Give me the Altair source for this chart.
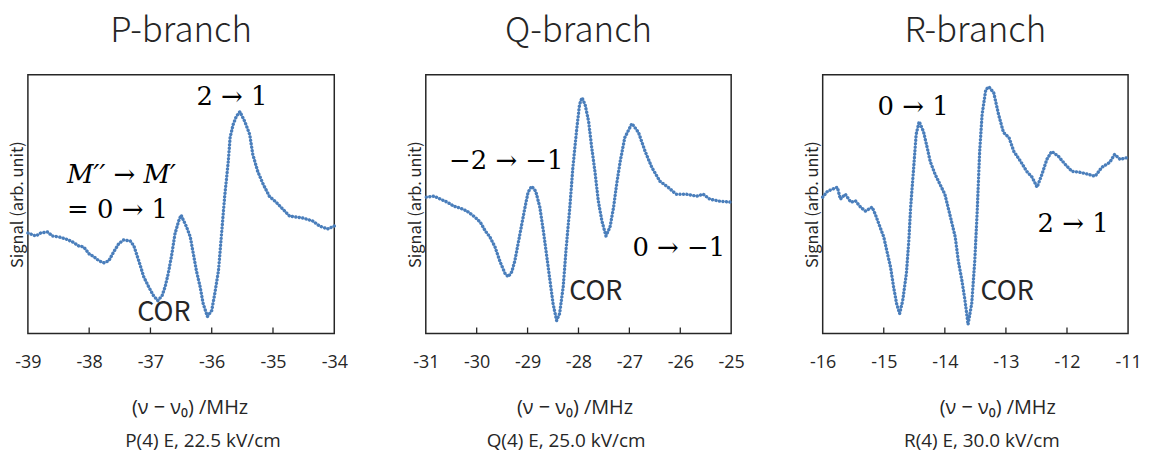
import altair as alt
import pandas as pd

# ---------------- data ----------------
# P-branch: frequency offset (MHz) and signal (arb. unit)
P_x = [-39.00, -38.87, -38.79, -38.68, -38.60, -38.49, -38.38, -38.27, -38.17, -38.09,
       -38.00, -37.92, -37.84, -37.76, -37.68, -37.60, -37.52, -37.44, -37.33, -37.27,
       -37.19, -37.11, -37.03, -36.95, -36.88, -36.81, -36.76, -36.71, -36.65, -36.60,
       -36.54, -36.50, -36.41, -36.35, -36.30, -36.25, -36.19, -36.14, -36.07, -36.00,
       -35.95, -35.89, -35.84, -35.79, -35.73, -35.70, -35.65, -35.60, -35.54, -35.46,
       -35.38, -35.33, -35.25, -35.16, -35.06, -34.95, -34.84, -34.73, -34.51, -34.35,
       -34.24, -34.11, -34.00]
P_y = [101, 98, 101, 102, 98, 97, 95, 92, 88, 87,
       80, 77, 73, 71, 73, 82, 90, 94, 93, 88,
       73, 57, 47, 38, 33, 38, 47, 60, 80, 100,
       113, 119, 107, 97, 80, 63, 47, 30, 17, 23,
       40, 63, 100, 137, 173, 197, 210, 218, 223, 213,
       200, 180, 163, 150, 138, 132, 125, 118, 116, 113,
       108, 105, 108]

# Q-branch
Q_x = [-30.99, -30.84, -30.71, -30.58, -30.45, -30.32, -30.19, -30.06, -29.93, -29.83,
       -29.74, -29.64, -29.54, -29.44, -29.38, -29.31, -29.25, -29.15, -29.05, -28.99,
       -28.92, -28.84, -28.76, -28.69, -28.63, -28.56, -28.50, -28.43, -28.37, -28.30,
       -28.24, -28.17, -28.11, -28.04, -27.98, -27.93, -27.87, -27.80, -27.74, -27.67,
       -27.61, -27.54, -27.46, -27.38, -27.31, -27.25, -27.18, -27.09, -26.95, -26.82,
       -26.69, -26.56, -26.40, -26.24, -26.08, -25.88, -25.68, -25.55, -25.42, -25.23,
       -25.00]
Q_y = [137, 138, 135, 132, 128, 126, 123, 118, 112, 103,
       97, 87, 72, 60, 57, 62, 73, 100, 127, 142,
       148, 143, 127, 103, 80, 53, 30, 13, 20, 47,
       87, 127, 167, 203, 230, 237, 230, 213, 187, 160,
       133, 113, 98, 107, 127, 150, 173, 197, 211, 202,
       183, 167, 153, 147, 140, 140, 138, 140, 135, 133,
       132]

# R-branch
R_x = [-16.00, -15.92, -15.84, -15.76, -15.71, -15.63, -15.54, -15.46, -15.38, -15.30,
       -15.19, -15.14, -15.08, -15.00, -14.95, -14.89, -14.84, -14.79, -14.74, -14.69,
       -14.63, -14.59, -14.56, -14.51, -14.47, -14.42, -14.35, -14.29, -14.24, -14.16,
       -14.08, -14.00, -13.92, -13.83, -13.78, -13.72, -13.67, -13.62, -13.56, -13.51,
       -13.47, -13.43, -13.39, -13.33, -13.28, -13.20, -13.12, -13.04, -12.95, -12.87,
       -12.76, -12.66, -12.57, -12.49, -12.41, -12.33, -12.25, -12.14, -12.03, -11.92,
       -11.79, -11.65, -11.54, -11.43, -11.30, -11.22, -11.13, -11.00]
R_y = [137, 143, 145, 147, 135, 140, 132, 133, 127, 123,
       127, 120, 110, 97, 83, 67, 47, 30, 20, 33,
       60, 93, 127, 167, 200, 213, 203, 187, 173, 160,
       150, 140, 120, 97, 73, 53, 33, 9, 30, 73,
       123, 183, 220, 245, 248, 242, 220, 202, 197, 183,
       173, 163, 157, 147, 160, 175, 183, 178, 170, 163,
       162, 160, 158, 167, 172, 180, 175, 177]

P_ticks = [-39, -38, -37, -36, -35, -34]
Q_ticks = [-31, -30, -29, -28, -27, -26, -25]
R_ticks = [-16, -15, -14, -13, -12, -11]

titles = ["P-branch", "Q-branch", "R-branch"]
captions = ["P(4) E, 22.5 kV/cm", "Q(4) E,  25.0 kV/cm", "R(4) E, 30.0 kV/cm"]
x_title = "(ν − ν₀) /MHz"
y_title = "Signal (arb. unit)"

# annotations: (x in MHz, signal, text)
P_notes = [(-35.67, 238, "2 → 1"), (-38.36, 124, "= 0 → 1")]
P_italic = [(-38.36, 159, "M′′ → M′")]
P_cor = [(-36.78, 21, "COR")]
Q_notes = [(-29.42, 173, "−2 → −1"), (-26.03, 86, "0 → −1")]
Q_italic = []
Q_cor = [(-27.66, 42, "COR")]
R_notes = [(-14.52, 228, "0 → 1"), (-11.90, 110, "2 → 1")]
R_italic = []
R_cor = [(-12.98, 42, "COR")]

# ---------------- styling ----------------
BLUE = "#4a7ebb"
INK = "#262626"
TITLE_FONT = "Noto Sans CJK JP"
LAT_FONT = "Open Sans, Lato, Noto Sans"
SERIF = "DejaVu Serif"
H = 260


def make_panel(title, xs, ys, dom, ticks, width, notes, italic, cor, caption,
               xt_dx, cap_dx):
    df = pd.DataFrame({"f": xs, "s": ys})
    xscale = alt.Scale(domain=dom, nice=False, zero=False)
    yscale = alt.Scale(domain=[0, H], nice=False, zero=False)
    x_axis = alt.Axis(
        values=ticks, title=None, ticks=False, domain=False, grid=False,
        labelExpr="datum.value < 0 ? '-' + abs(datum.value) : '' + datum.value",
        labelPadding=20, labelFontSize=18,
        labelFont=LAT_FONT, labelColor=INK, labelFlush=False)
    y_axis = alt.Axis(
        title=y_title, labels=False, ticks=False, domain=False, grid=False,
        titlePadding=2, titleFontSize=16.5, titleFont=TITLE_FONT,
        titleFontWeight="normal", titleColor=INK)
    x_enc = alt.X("f:Q", scale=xscale, axis=x_axis)
    y_enc = alt.Y("s:Q", scale=yscale, axis=y_axis)

    line = alt.Chart(df).mark_line(
        color=BLUE, strokeWidth=3.4, strokeCap="round", strokeJoin="round",
        strokeDash=[0.1, 3.4]).encode(x=x_enc, y=y_enc)

    tdf = pd.DataFrame({"f": ticks[1:-1]})
    tick_marks = alt.Chart(tdf).mark_rule(color=INK, strokeWidth=1.3).encode(
        x=x_enc, y=alt.value(H), y2=alt.value(H - 6))

    layers = [line, tick_marks]

    def txt(rows, **kw):
        d = pd.DataFrame(rows, columns=["f", "s", "t"])
        return alt.Chart(d).mark_text(**kw).encode(x=x_enc, y=y_enc, text="t:N")

    if notes:
        centered = [r for r in notes if not r[2].startswith("=")]
        lefted = [r for r in notes if r[2].startswith("=")]
        if centered:
            layers.append(txt(centered, font=SERIF, fontSize=26, color="black",
                              align="center", baseline="middle"))
        if lefted:
            layers.append(txt(lefted, font=SERIF, fontSize=26, color="black",
                              align="left", baseline="middle"))
    if italic:
        layers.append(txt(italic, font=SERIF, fontSize=26, fontStyle="italic",
                          color="black", align="left", baseline="middle"))
    if cor:
        layers.append(txt(cor, font=TITLE_FONT, fontSize=27, color=INK,
                          align="center", baseline="middle"))

    xt = alt.Chart(pd.DataFrame({"t": [x_title]})).mark_text(
        font=LAT_FONT, fontSize=20, color=INK, align="center",
        baseline="middle").encode(text="t:N", x=alt.value(xt_dx), y=alt.value(335))
    cap = alt.Chart(pd.DataFrame({"t": [caption]})).mark_text(
        font=LAT_FONT, fontSize=19, color=INK, align="center",
        baseline="middle").encode(text="t:N", x=alt.value(cap_dx), y=alt.value(368))
    layers += [xt, cap]

    return alt.layer(*layers).properties(width=width, height=H, title=title)


p1 = make_panel(titles[0], P_x, P_y, [-39, -34], P_ticks, 308, P_notes, P_italic,
                P_cor, captions[0], 163, 176)
p2 = make_panel(titles[1], Q_x, Q_y, [-31, -25], Q_ticks, 307, Q_notes, Q_italic,
                Q_cor, captions[1], 150, 141)
p3 = make_panel(titles[2], R_x, R_y, [-16, -11], R_ticks, 307, R_notes, R_italic,
                R_cor, captions[2], 176, 160)

chart = alt.hconcat(p1, p2, p3, spacing=92, bounds="flush").resolve_scale(
    x="independent", y="independent"
).properties(
    padding={"left": 1, "top": 4, "right": 0, "bottom": 0}
).configure_view(
    stroke=INK, strokeWidth=1.5
).configure_title(
    font=TITLE_FONT, fontSize=35, fontWeight=300, color=INK,
    offset=26, anchor="middle"
)

chart.save("out.html", embed_options={"renderer": "svg", "actions": False})
